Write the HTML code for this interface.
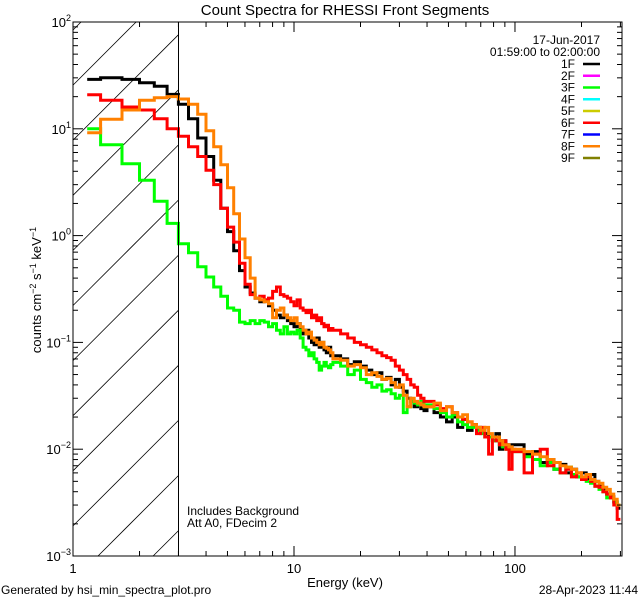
<!DOCTYPE html>
<html><head><meta charset="utf-8"><style>
html,body{margin:0;padding:0;background:#fff;width:640px;height:600px;overflow:hidden;}
svg{display:block;font-family:"Liberation Sans",sans-serif;}
</style></head><body>
<svg id="chart" width="640" height="600" viewBox="0 0 640 600" xmlns="http://www.w3.org/2000/svg">
<defs><clipPath id="plotclip"><rect x="73" y="22" width="549" height="534"/></clipPath></defs>
<rect width="640" height="600" fill="#fff"/>
<text x="345" y="15" font-size="15" text-anchor="middle">Count Spectra for RHESSI Front Segments</text>
<g id="hatch"></g>
<g id="series" clip-path="url(#plotclip)"></g>
<g id="axes"></g>
<line x1="178.5" y1="22" x2="178.5" y2="556" stroke="#000" stroke-width="1"/>
<text transform="translate(41,290) rotate(-90)" font-size="13" text-anchor="middle">counts cm<tspan font-size="9" dy="-5">−2</tspan><tspan dy="5"> s</tspan><tspan font-size="9" dy="-5">−1</tspan><tspan dy="5"> keV</tspan><tspan font-size="9" dy="-5">−1</tspan></text>
<text x="345" y="587" font-size="13" text-anchor="middle">Energy (keV)</text>
<text x="1" y="594" font-size="12">Generated by hsi_min_spectra_plot.pro</text>
<text x="638" y="594" font-size="12" text-anchor="end">28-Apr-2023 11:44</text>
<text x="187" y="515" font-size="12">Includes Background</text>
<text x="187" y="527" font-size="12">Att A0, FDecim 2</text>
<text x="600" y="44" font-size="12" text-anchor="end">17-Jun-2017</text>
<text x="600" y="56" font-size="12" text-anchor="end">01:59:00 to 02:00:00</text>
<g id="legend"></g>
</svg>
<script>
const segStarts = [1.0, 15, 40, 100];
const segSteps = [1/3, 1.25, 3, 10];
const segCounts = [42, 20, 20, 20];
const firstEdge = 1.16;

const black = [29,30,29,27,25,21,
17,12.4,8.2,5.5,3.3,1.8,1.09,0.72,0.47,0.33,0.29,0.26,
0.24,0.25,0.22,0.2,0.18,0.17,0.18,0.16,0.15,0.14,0.15,0.13,
0.12,0.13,0.11,0.10,0.095,0.11,0.09,0.1,0.085,0.08,0.09,0.075,
0.075,0.07,0.062,0.066,0.06,0.055,0.05,0.052,0.045,0.047,0.04,0.045,0.038,0.035,0.03,0.028,0.025,0.027,0.024,0.023,
0.025,0.022,0.02,0.018,0.02,0.016,0.019,0.015,0.017,0.016,0.015,0.014,0.013,0.012,0.014,0.01,0.012,0.011,0.0095,0.011,
0.011,0.009,0.0095,0.0075,0.008,0.0065,0.0072,0.006,0.0065,0.0055,0.006,0.0052,0.0058,0.005,0.0045,0.0042,0.0038,0.0036,0.0032,0.0028];
const green = [10,7.1,4.7,3.3,2.1,1.3,
0.84,0.69,0.51,0.41,0.33,0.27,0.21,0.2,0.155,0.15,0.16,0.15,
0.16,0.155,0.14,0.15,0.13,0.12,0.14,0.12,0.125,0.12,0.13,0.11,
0.09,0.085,0.075,0.08,0.07,0.065,0.055,0.06,0.065,0.06,0.058,0.062,
0.065,0.06,0.05,0.055,0.045,0.042,0.038,0.04,0.035,0.036,0.033,0.03,0.032,0.022,0.025,0.028,0.027,0.026,0.028,0.025,
0.026,0.024,0.022,0.02,0.021,0.018,0.017,0.016,0.016,0.015,0.014,0.013,0.013,0.012,0.012,0.011,0.0105,0.01,0.0095,0.0095,
0.0095,0.0085,0.008,0.007,0.0075,0.0065,0.006,0.0068,0.0058,0.0055,0.0052,0.005,0.0048,0.0045,0.0042,0.004,0.0035,0.0035,0.0032,0.003];
const red = [20.8,18.5,16,15,12.4,10,
8.5,6.8,5.5,4.1,3.0,1.8,1.2,0.87,0.55,0.35,0.28,0.26,
0.27,0.25,0.26,0.3,0.33,0.28,0.27,0.26,0.24,0.22,0.25,0.21,
0.2,0.19,0.2,0.17,0.18,0.16,0.17,0.15,0.14,0.145,0.13,0.135,
0.13,0.12,0.11,0.1,0.095,0.09,0.085,0.08,0.075,0.072,0.068,0.06,0.055,0.05,0.045,0.04,0.038,0.032,0.03,0.028,
0.028,0.026,0.024,0.025,0.022,0.02,0.019,0.018,0.017,0.014,0.016,0.013,0.009,0.013,0.012,0.011,0.012,0.01,0.0065,0.01,
0.0095,0.006,0.009,0.01,0.007,0.0075,0.006,0.0065,0.0055,0.006,0.0052,0.0055,0.005,0.0045,0.0044,0.004,0.0038,0.0035,0.003,0.0022];
const orange = [9.2,12.3,15,18.5,19.5,20,
19,17,13.7,9.6,6.8,4.6,2.8,1.6,0.93,0.62,0.4,0.26,
0.25,0.24,0.23,0.17,0.2,0.21,0.18,0.17,0.16,0.17,0.15,0.14,
0.13,0.12,0.125,0.11,0.105,0.1,0.095,0.1,0.09,0.088,0.085,0.08,
0.07,0.068,0.06,0.062,0.058,0.05,0.052,0.048,0.045,0.046,0.042,0.038,0.04,0.032,0.025,0.03,0.028,0.027,0.026,0.025,
0.025,0.027,0.023,0.025,0.022,0.02,0.021,0.018,0.017,0.016,0.015,0.016,0.014,0.013,0.013,0.012,0.011,0.011,0.0105,0.01,
0.01,0.0095,0.009,0.0085,0.008,0.0075,0.007,0.0068,0.0065,0.006,0.0055,0.0058,0.0052,0.005,0.0048,0.0044,0.0042,0.0038,0.0034,0.003];
const legendLabels = ["1F","2F","3F","4F","5F","6F","7F","8F","9F"];
const legendColors = ["#000000","#ff00ff","#00ff00","#00ffff","#cccc00","#ff0000","#0000ff","#ff8000","#808000"];
const xTickMajors = [1,10,100];
const yTickExps = [-3,-2,-1,0,1,2];

const X0=73, X1=622, Y0=556, Y1=22;
const xMin=0, xMax=Math.log10(305);
const yMin=-3, yMax=2;
function sx(e){return X0+(Math.log10(e)-xMin)/(xMax-xMin)*(X1-X0);}
function sy(v){return Y0-(Math.log10(v)-yMin)/(yMax-yMin)*(Y0-Y1);}
const NS="http://www.w3.org/2000/svg";
function mk(tag,attrs,parent){const el=document.createElementNS(NS,tag);for(const k in attrs)el.setAttribute(k,attrs[k]);parent.appendChild(el);return el;}

const edges=[];
for(let s=0;s<segStarts.length;s++){
  for(let i=(s===0?0:1);i<=segCounts[s];i++) edges.push(segStarts[s]+i*segSteps[s]);
}
edges[0]=firstEdge;

// hatch lines, geometrically clipped to the box x 73..178.5, y 22..556
const hatch=document.getElementById('hatch');
const HX1=178.5;
for(let y0=30;y0<=556+(HX1-X0);y0+=55.1){
  let xa=X0, ya=y0;
  if(ya>Y0){xa=X0+(ya-Y0); ya=Y0;}
  let xb=HX1, yb=y0-(HX1-X0);
  if(yb<Y1){xb=X0+(y0-Y1); yb=Y1;}
  if(xa>=xb) continue;
  const l=mk('line',{x1:xa,y1:ya,x2:xb,y2:yb,stroke:'#000','stroke-width':0.8},hatch);
  
  
}

const seriesG=document.getElementById('series');
function drawSeries(vals,color,name){
  let d='';
  for(let i=0;i<vals.length;i++){
    const y=sy(vals[i]).toFixed(1), xa=sx(edges[i]).toFixed(1), xb=sx(edges[i+1]).toFixed(1);
    d+=(i===0?'M':'L')+xa+','+y+'L'+xb+','+y;
  }
  const p=mk('path',{d:d,fill:'none',stroke:color,'stroke-width':3,'stroke-linejoin':'miter'},seriesG);
  
  
}
drawSeries(black,'#000000','series-1f');
drawSeries(green,'#00ff00','series-3f');
drawSeries(red,'#ff0000','series-6f');
drawSeries(orange,'#ff8000','series-8f');

const axes=document.getElementById('axes');
const frame=mk('rect',{x:X0,y:Y1,width:X1-X0,height:Y0-Y1,fill:'none',stroke:'#000','stroke-width':1},axes);


for(let dec=0;dec<3;dec++){
  for(let m=1;m<10;m++){
    const e=Math.pow(10,dec)*m; if(e>305)break;
    const x=sx(e), len=(m===1)?10:5;
    mk('line',{x1:x,y1:Y0,x2:x,y2:Y0-len,stroke:'#000'},axes);
    mk('line',{x1:x,y1:Y1,x2:x,y2:Y1+len,stroke:'#000'},axes);
  }
}
xTickMajors.forEach(e=>{
  const t=mk('text',{x:sx(e),y:Y0+17,'font-size':13,'text-anchor':'middle'},axes);
  t.textContent=String(e);
  
  
});
for(let ex=-3;ex<2;ex++){
  for(let m=1;m<10;m++){
    const v=Math.pow(10,ex)*m, y=sy(v), len=(m===1)?10:5;
    mk('line',{x1:X0,y1:y,x2:X0+len,y2:y,stroke:'#000'},axes);
    mk('line',{x1:X1,y1:y,x2:X1-len,y2:y,stroke:'#000'},axes);
  }
}
yTickExps.forEach(ex=>{
  const t=mk('text',{x:X0-2,y:sy(Math.pow(10,ex))+5,'font-size':13,'text-anchor':'end'},axes);
  
  
  t.innerHTML='10<tspan font-size="9" dy="-6">'+(ex<0?'−'+(-ex):ex)+'</tspan>';
});

const legend=document.getElementById('legend');
legendLabels.forEach((lab,i)=>{
  const y=64+i*11.75;
  const g=mk('g',{},legend);
  
  
  const t=mk('text',{x:575,y:y+4,'font-size':12,'text-anchor':'end'},g);
  t.textContent=lab;
  mk('line',{x1:583,y1:y,x2:600,y2:y,stroke:legendColors[i],'stroke-width':2.5},g);
});
</script>
</body></html>
